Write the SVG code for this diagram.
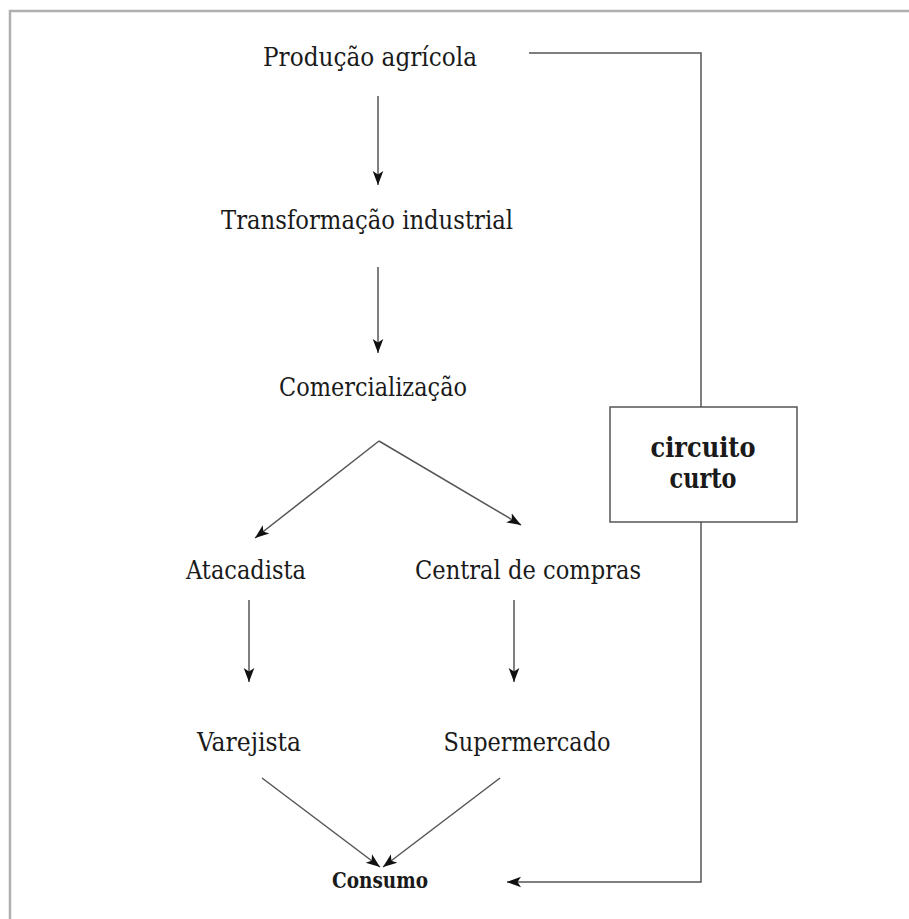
<svg xmlns="http://www.w3.org/2000/svg" width="909" height="919" viewBox="0 0 909 919">
<style>
.t{font-family:"DejaVu Serif Condensed","Liberation Serif",serif;font-size:26px;fill:#1a1a1a;text-anchor:middle}
.b{font-family:"DejaVu Serif Condensed","Liberation Serif",serif;font-weight:bold;fill:#1a1a1a;text-anchor:middle}
.c{stroke:#555;stroke-width:1.5;fill:none}
</style>
<defs>
<marker id="ah" viewBox="0 0 10 10" refX="10" refY="5" markerWidth="14" markerHeight="14" markerUnits="userSpaceOnUse" orient="auto">
<path d="M0,1.2 L10,5 L0,8.8 L2.5,5 Z" fill="#111"/>
</marker>
</defs>
<rect x="0" y="0" width="909" height="919" fill="#fff"/>
<path d="M10,919 L10,11 L909,11" stroke="#b0b0b0" stroke-width="2.5" fill="none"/>
<g id="connectors">
<line class="c" x1="378" y1="96" x2="378" y2="185" marker-end="url(#ah)"/>
<line class="c" x1="378" y1="267" x2="378" y2="353" marker-end="url(#ah)"/>
<line class="c" x1="379" y1="441" x2="255" y2="538" marker-end="url(#ah)"/>
<line class="c" x1="379" y1="441" x2="521" y2="525" marker-end="url(#ah)"/>
<line class="c" x1="249" y1="600" x2="249" y2="682" marker-end="url(#ah)"/>
<line class="c" x1="514" y1="600" x2="514" y2="682" marker-end="url(#ah)"/>
<line class="c" x1="262" y1="778" x2="380" y2="867" marker-end="url(#ah)"/>
<line class="c" x1="500" y1="778" x2="383" y2="867" marker-end="url(#ah)"/>
<polyline class="c" points="529,53 701,53 701,407"/>
<polyline class="c" points="701,522 701,882 507,882" marker-end="url(#ah)"/>
</g>
<g id="n1"><text class="t" x="370" y="66" textLength="214" lengthAdjust="spacingAndGlyphs">Produção agrícola</text></g>
<g id="n2"><text class="t" x="367" y="229" textLength="292" lengthAdjust="spacingAndGlyphs">Transformação industrial</text></g>
<g id="n3"><text class="t" x="373" y="396" textLength="188" lengthAdjust="spacingAndGlyphs">Comercialização</text></g>
<g id="n4"><text class="t" x="246" y="579" textLength="120" lengthAdjust="spacingAndGlyphs">Atacadista</text></g>
<g id="n5"><text class="t" x="528" y="579" textLength="226" lengthAdjust="spacingAndGlyphs">Central de compras</text></g>
<g id="n6"><text class="t" x="249" y="751" textLength="104" lengthAdjust="spacingAndGlyphs">Varejista</text></g>
<g id="n7"><text class="t" x="527" y="751" textLength="167" lengthAdjust="spacingAndGlyphs">Supermercado</text></g>
<g id="n8"><text class="b" x="380" y="888" font-size="22" textLength="96" lengthAdjust="spacingAndGlyphs">Consumo</text></g>
<g id="n9">
<rect x="610" y="407" width="187" height="115" fill="#fff" stroke="#555" stroke-width="1.5"/>
<text class="b" x="703" y="457" font-size="27" textLength="105" lengthAdjust="spacingAndGlyphs">circuito</text>
<text class="b" x="703" y="488" font-size="27" textLength="67" lengthAdjust="spacingAndGlyphs">curto</text>
</g>
</svg>
